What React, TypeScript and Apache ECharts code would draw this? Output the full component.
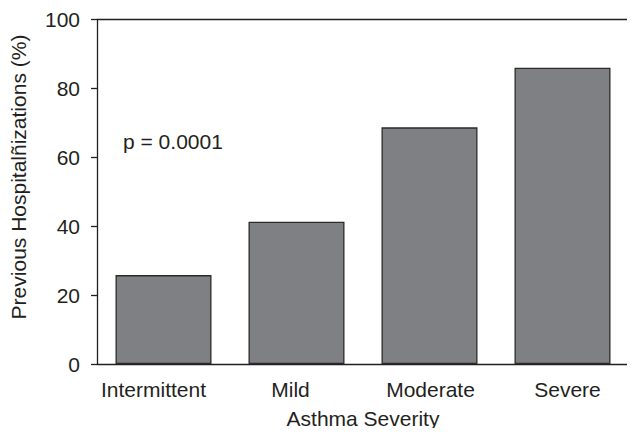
import React, { useEffect, useRef } from "react";
import * as echarts from "echarts";

const categories = ["Intermittent", "Mild", "Moderate", "Severe"];
const hospitalizations = [25.8, 41.3, 68.7, 86.0];
const yTicks = [0, 20, 40, 60, 80, 100];
const annotation = "p = 0.0001";
const xTitle = "Asthma Severity";
const yTitle = "Previous Hospitalñizations (%)";

const INK = "#231f20";
const FONT = "'Liberation Sans', Arial, sans-serif";
const FS = 21;

// horizontal nudges of category labels, as placed in the original figure
const LABEL_SHIFT = [-10, -6, 1, 5];

export default function App() {
  const ref = useRef<HTMLDivElement>(null);
  useEffect(() => {
    if (!ref.current) return;
    const chart = echarts.init(ref.current, undefined, { renderer: "svg" });
    const rich: Record<string, any> = {};
    LABEL_SHIFT.forEach((d, i) => {
      rich["c" + i] = {
        fontSize: FS,
        color: INK,
        fontFamily: FONT,
        padding: d < 0 ? [0, -2 * d, 0, 0] : [0, 0, 0, 2 * d],
      };
    });
    chart.setOption({
      animation: false,
      textStyle: { fontFamily: FONT, color: INK },
      grid: { left: 97, right: 6, top: 19.5, bottom: 72, containLabel: false },
      xAxis: {
        type: "category",
        data: categories,
        name: xTitle,
        nameLocation: "middle",
        nameGap: 44,
        nameTextStyle: { fontSize: FS, color: INK, fontFamily: FONT },
        axisLine: { lineStyle: { color: INK, width: 1.3 } },
        axisTick: { show: false },
        axisLabel: {
          interval: 0,
          fontSize: FS,
          color: INK,
          margin: 15,
          fontFamily: FONT,
          formatter: (v: string, i: number) => `{c${i}|${v}}`,
          rich,
        },
      },
      yAxis: {
        type: "value",
        min: yTicks[0],
        max: yTicks[yTicks.length - 1],
        interval: 20,
        axisLine: { show: true, lineStyle: { color: INK, width: 1.3 } },
        axisTick: { show: true, length: 6, lineStyle: { color: INK, width: 1.3 } },
        axisLabel: { fontSize: FS, color: INK, margin: 17, fontFamily: FONT, padding: [3, 0, 0, 0] },
        splitLine: { show: false },
      },
      series: [
        {
          type: "bar",
          data: hospitalizations,
          barWidth: 96,
          itemStyle: { color: "#7f8083", borderColor: "#2b2b2b", borderWidth: 1.3 },
        },
      ],
      graphic: [
        {
          type: "line",
          shape: { x1: 97, y1: 19.5, x2: 635, y2: 19.5 },
          style: { stroke: INK, lineWidth: 1.3 },
        },
        {
          type: "line",
          shape: { x1: 629, y1: 364, x2: 635, y2: 364 },
          style: { stroke: INK, lineWidth: 1.3 },
        },
        {
          type: "text",
          x: 123,
          y: 141,
          style: {
            text: annotation,
            fontSize: FS,
            fill: INK,
            fontFamily: FONT,
            verticalAlign: "middle",
            align: "left",
          },
        },
        {
          type: "text",
          x: 18.5,
          y: 177,
          rotation: Math.PI / 2,
          style: {
            text: yTitle,
            fontSize: FS,
            fill: INK,
            fontFamily: FONT,
            verticalAlign: "middle",
            align: "center",
          },
        },
      ],
    });
    return () => chart.dispose();
  }, []);
  return <div ref={ref} style={{ width: 635, height: 436, margin: -8 }} />;
}
